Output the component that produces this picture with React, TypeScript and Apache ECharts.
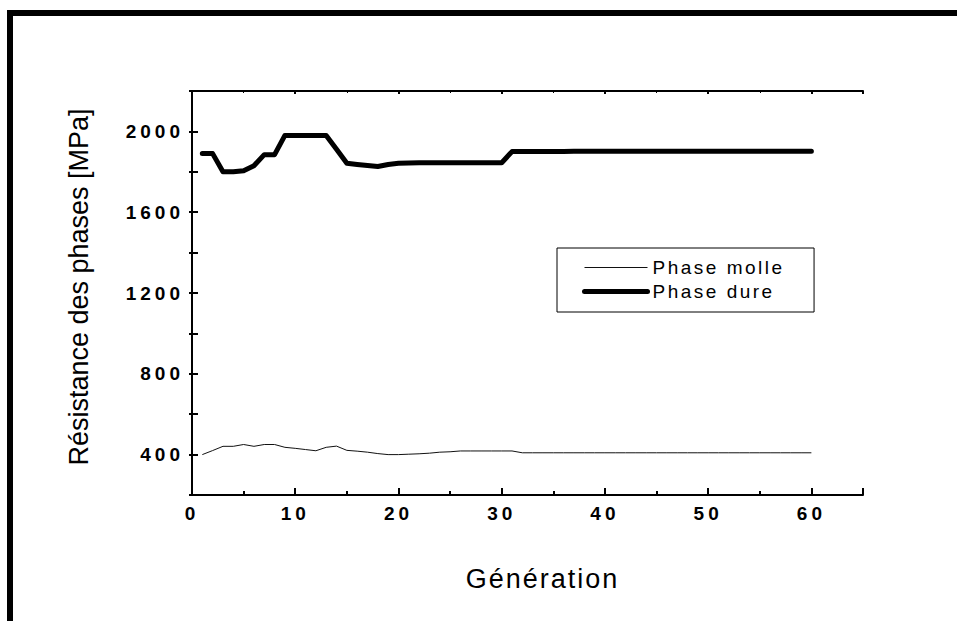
import React, { useEffect, useRef } from "react";
import * as echarts from "echarts";

const generations = [
  1, 2, 3, 4, 5, 6, 7, 8, 9, 10, 11, 12, 13, 14, 15, 16, 17, 18, 19, 20,
  21, 22, 23, 24, 25, 26, 27, 28, 29, 30, 31, 32, 33, 34, 35, 36, 37, 38, 39, 40,
  41, 42, 43, 44, 45, 46, 47, 48, 49, 50, 51, 52, 53, 54, 55, 56, 57, 58, 59, 60,
];

const phaseMolle = [
  400, 420, 441, 441, 450, 441, 450, 450, 436, 431, 425, 419, 436, 442, 421, 417, 412, 405, 400, 400,
  402, 404, 407, 412, 414, 418, 418, 418, 418, 418, 418, 409, 409, 409, 409, 409, 409, 409, 409, 409,
  409, 409, 409, 409, 409, 409, 409, 409, 409, 409, 409, 409, 409, 409, 409, 409, 409, 409, 409, 409,
];

const phaseDure = [
  1890, 1890, 1800, 1800, 1805, 1830, 1885, 1885, 1980, 1980, 1980, 1980, 1980, 1912, 1842, 1836, 1831, 1826, 1836, 1842,
  1844, 1845, 1845, 1845, 1845, 1845, 1845, 1845, 1845, 1845, 1900, 1900, 1900, 1901, 1901, 1901, 1902, 1902, 1902, 1902,
  1902, 1902, 1902, 1902, 1902, 1902, 1902, 1902, 1902, 1902, 1902, 1902, 1902, 1902, 1902, 1902, 1902, 1902, 1902, 1902,
];

const seriesNames = ["Phase molle", "Phase dure"];
const xTitle = "Génération";
const yTitle = "Résistance des phases [MPa]";

const FONT = "'Liberation Sans', Arial, Helvetica, sans-serif";

export default function App() {
  const ref = useRef<HTMLDivElement>(null);

  useEffect(() => {
    document.body.style.margin = "0";
    const el = ref.current!;
    const chart = echarts.init(el, null, { renderer: "svg" });

    const axisLine = { show: true, lineStyle: { color: "#000", width: 2 } };

    chart.setOption({
      animation: false,
      backgroundColor: "#fff",
      textStyle: { fontFamily: FONT },
      grid: { left: 192, right: 94, top: 91, bottom: 126, containLabel: false },
      legend: {
        left: 557,
        top: 248,
        orient: "vertical",
        data: seriesNames,
        itemWidth: 63,
        itemHeight: 20,
        itemGap: 5,
        padding: [10, 57, 11, 25],
        borderColor: "#000",
        borderWidth: 1,
        selectedMode: false,
        itemStyle: { opacity: 0 },
        lineStyle: { width: "inherit", opacity: 1 },
        textStyle: { fontFamily: FONT, fontSize: 19, color: "#000" },
      },
      xAxis: [
        {
          type: "value",
          min: 0,
          max: 65,
          interval: 10,
          position: "bottom",
          name: xTitle,
          nameLocation: "middle",
          nameGap: 70,
          nameTextStyle: { fontFamily: FONT, fontSize: 27, color: "#000", padding: [0, 0, 0, 30] },
          axisLine,
          axisTick: { show: true, inside: true, length: 7, lineStyle: { color: "#000", width: 2 } },
          minorTick: { show: true, splitNumber: 2, length: 4, lineStyle: { color: "#000", width: 2 } },
          axisLabel: {
            show: true,
            margin: 9,
            fontFamily: FONT,
            fontSize: 19,
            fontWeight: "bold",
            color: "#000",
            formatter: (v: number) => (v <= 60 ? String(v) : ""),
          },
          splitLine: { show: false },
        },
        {
          type: "value",
          min: 0,
          max: 65,
          interval: 10,
          position: "top",
          axisLine,
          axisTick: { show: true, inside: true, length: 3, lineStyle: { color: "#000", width: 2 } },
          minorTick: { show: true, splitNumber: 2, length: 2, lineStyle: { color: "#000", width: 1 } },
          axisLabel: { show: false },
          splitLine: { show: false },
        },
      ],
      yAxis: [
        {
          type: "value",
          min: 200,
          max: 2200,
          interval: 200,
          position: "left",
          name: yTitle,
          nameLocation: "middle",
          nameGap: 100,
          nameRotate: 90,
          nameTextStyle: { fontFamily: FONT, fontSize: 27, color: "#000", padding: [0, 0, 0, 12] },
          axisLine,
          axisTick: { show: true, inside: true, length: 6, lineStyle: { color: "#000", width: 2 } },
          axisLabel: {
            show: true,
            margin: 8,
            fontFamily: FONT,
            fontSize: 19,
            fontWeight: "bold",
            color: "#000",
            formatter: (v: number) => (v % 400 === 0 && v < 2200 ? String(v) : ""),
          },
          splitLine: { show: false },
        },
        {
          type: "value",
          min: 200,
          max: 2200,
          interval: 200,
          position: "right",
          axisLine,
          axisTick: { show: true, inside: true, length: 3, lineStyle: { color: "#000", width: 2 } },
          axisLabel: { show: false },
          splitLine: { show: false },
        },
      ],
      series: [
        {
          name: seriesNames[0],
          type: "line",
          xAxisIndex: 0,
          yAxisIndex: 0,
          symbol: "none",
          silent: true,
          data: generations.map((g, i) => [g, phaseMolle[i]]),
          lineStyle: { color: "#111", width: 1 },
          itemStyle: { color: "#111" },
        },
        {
          name: seriesNames[1],
          type: "line",
          xAxisIndex: 0,
          yAxisIndex: 0,
          symbol: "none",
          silent: true,
          data: generations.map((g, i) => [g, phaseDure[i]]),
          lineStyle: { color: "#000", width: 5, join: "round", cap: "round" },
          itemStyle: { color: "#000" },
        },
      ],
      graphic: [
        { type: "rect", shape: { x: 7, y: 10, width: 950, height: 6 }, style: { fill: "#000" }, silent: true },
        { type: "rect", shape: { x: 7, y: 10, width: 6, height: 611 }, style: { fill: "#000" }, silent: true },
      ],
    });

    const applySpacing = () => {
      el.querySelectorAll("text").forEach((t) => {
        const s = t.textContent || "";
        let ls = 0;
        if (/^\d+$/.test(s)) ls = 4;
        else if (s === xTitle) ls = 2;
        else if (s.startsWith("Phase")) ls = 2.5;
        if (ls) t.setAttribute("letter-spacing", ls + "px");
      });
    };
    applySpacing();
    chart.on("finished", applySpacing);

    return () => {
      chart.dispose();
    };
  }, []);

  return <div ref={ref} style={{ width: 957, height: 621 }} />;
}
